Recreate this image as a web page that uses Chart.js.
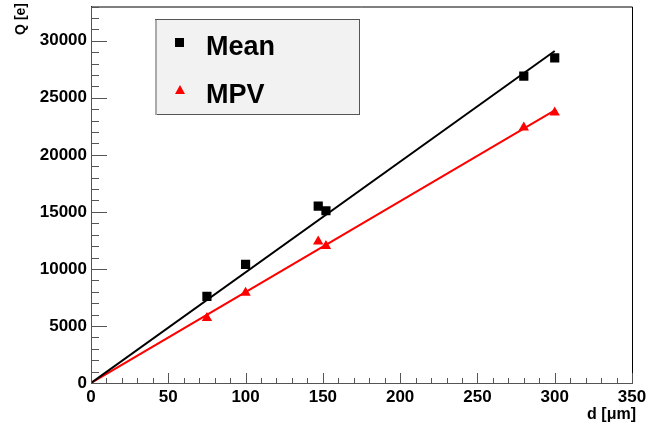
<!DOCTYPE html>
<html>
<head>
<meta charset="utf-8">
<title>Q vs d</title>
<script src="https://cdn.jsdelivr.net/npm/chart.js"></script>
<style>
  html, body { margin: 0; padding: 0; background: #fff; }
  #wrap { width: 646px; height: 430px; }
</style>
</head>
<body>
<div id="wrap"><canvas id="qChart" width="646" height="430"></canvas></div>
<script>
// values
const thickness = [75, 100, 147, 152, 280, 300];
const meanQ = [7600, 10400, 15500, 15100, 26900, 28500];
const mpvQ = [5700, 7900, 12400, 12000, 22400, 23700];
const fitX = [0, 300];
const meanFit = [0, 29100];
const mpvFit = [0, 23900];
const seriesLabels = ['Mean', 'MPV'];
const xTicks = [0, 50, 100, 150, 200, 250, 300, 350];
const yTicks = [0, 5000, 10000, 15000, 20000, 25000, 30000];

const toXY = (xs, ys) => xs.map((x, i) => ({ x, y: ys[i] }));
const FONT = '"Liberation Sans", Arial, sans-serif';

// ROOT-like frame: ticks inside, legend box, axis titles
const rootFrame = {
  id: 'rootFrame',
  afterDraw(chart) {
    const { ctx, chartArea: a, scales: { x, y } } = chart;
    ctx.save();
    ctx.lineWidth = 1;
    ctx.strokeStyle = '#000';
    ctx.beginPath();
    ctx.moveTo(a.left, a.top + 0.5);
    ctx.lineTo(a.right + 0.5, a.top + 0.5);
    ctx.lineTo(a.right + 0.5, a.bottom);
    ctx.stroke();

    ctx.strokeStyle = '#555';
    ctx.beginPath();
    for (let v = 0; v <= 350; v += 10) {
      const px = Math.round(x.getPixelForValue(v)) + 0.5;
      const len = v % 50 === 0 ? 10 : 5;
      ctx.moveTo(px, a.bottom);
      ctx.lineTo(px, a.bottom - len);
    }
    for (let v = 0; v <= 33000; v += 1000) {
      const py = Math.round(y.getPixelForValue(v)) + 0.5;
      const len = v % 5000 === 0 ? 16 : 8;
      ctx.moveTo(a.left, py);
      ctx.lineTo(a.left + len, py);
    }
    ctx.stroke();

    // legend box
    const bx = 155, by = 19, bw = 204, bh = 95;
    ctx.fillStyle = '#f2f2f2';
    ctx.fillRect(bx, by, bw, bh);
    ctx.strokeStyle = '#555';
    ctx.strokeRect(bx + 0.5, by + 0.5, bw, bh);
    ctx.fillStyle = '#aaa';
    ctx.fillRect(bx, by + 1, 2, bh);

    ctx.font = 'bold 27px ' + FONT;
    ctx.textBaseline = 'alphabetic';
    ctx.fillStyle = '#000';
    ctx.fillRect(175, 38, 9, 9);
    ctx.fillText(seriesLabels[0], 206, 55);
    ctx.fillStyle = '#f00';
    ctx.beginPath();
    ctx.moveTo(180, 85);
    ctx.lineTo(185, 94);
    ctx.lineTo(175, 94);
    ctx.closePath();
    ctx.fill();
    ctx.fillStyle = '#000';
    ctx.fillText(seriesLabels[1], 206, 103);

    // axis titles
    ctx.font = 'bold 16px ' + FONT;
    ctx.textAlign = 'right';
    ctx.fillText('d [\u03bcm]', 636, 419);
    ctx.font = 'bold 14px ' + FONT;
    ctx.translate(25, 3);
    ctx.rotate(-Math.PI / 2);
    ctx.fillText('Q [e]', 0, 0);
    ctx.restore();
  }
};

new Chart(document.getElementById('qChart'), {
  type: 'scatter',
  data: {
    datasets: [
      {
        label: 'Mean fit',
        type: 'line',
        data: toXY(fitX, meanFit),
        borderColor: '#000',
        borderWidth: 2,
        pointRadius: 0,
        fill: false
      },
      {
        label: 'MPV fit',
        type: 'line',
        data: toXY(fitX, mpvFit),
        borderColor: '#f00',
        borderWidth: 2,
        pointRadius: 0,
        fill: false
      },
      {
        label: seriesLabels[0],
        data: toXY(thickness, meanQ),
        pointStyle: 'rect',
        pointRadius: 6.5,
        backgroundColor: '#000',
        borderWidth: 0
      },
      {
        label: seriesLabels[1],
        data: toXY(thickness, mpvQ),
        pointStyle: 'triangle',
        pointRadius: 6,
        backgroundColor: '#f00',
        borderWidth: 0
      }
    ]
  },
  options: {
    responsive: false,
    animation: false,
    layout: { padding: { top: 4, right: 14, left: 0, bottom: 0 } },
    plugins: { legend: { display: false }, tooltip: { enabled: false } },
    scales: {
      x: {
        type: 'linear',
        min: 0,
        max: 350,
        afterFit(s) { s.height = 47; s.paddingRight = 0; s.paddingLeft = 0; },
        afterBuildTicks(s) { s.ticks = xTicks.map(v => ({ value: v })); },
        grid: { drawOnChartArea: false, drawTicks: false },
        border: { color: '#555', width: 1 },
        ticks: {
          padding: 4,
          color: '#000',
          maxRotation: 0,
          callback: v => String(v),
          font: { family: FONT, size: 17, weight: 'bold' }
        }
      },
      y: {
        type: 'linear',
        min: 0,
        max: 33000,
        afterFit(s) { s.width = 91; s.paddingTop = 0; s.paddingBottom = 0; },
        afterBuildTicks(s) { s.ticks = yTicks.map(v => ({ value: v })); },
        grid: { drawOnChartArea: false, drawTicks: false },
        border: { color: '#555', width: 1 },
        ticks: {
          padding: 4,
          color: '#000',
          callback: v => String(v),
          font: { family: FONT, size: 17, weight: 'bold' }
        }
      }
    }
  },
  plugins: [rootFrame]
});
</script>
</body>
</html>
